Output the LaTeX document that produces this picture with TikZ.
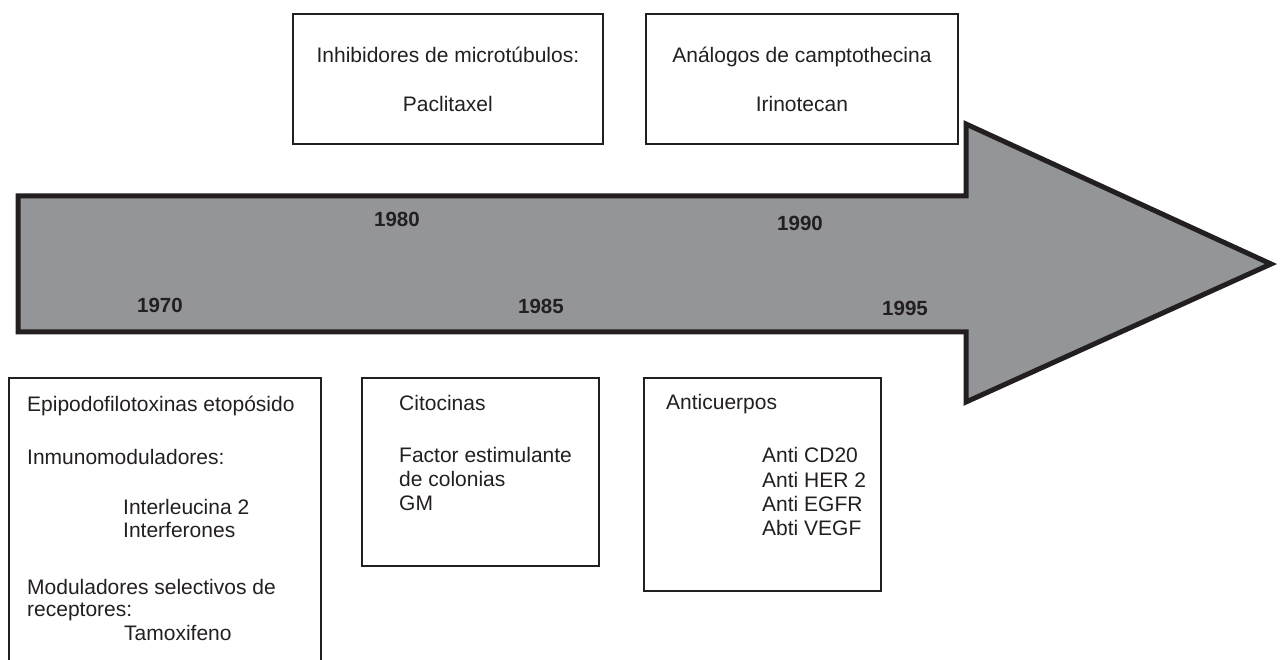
\documentclass[tikz,border=0pt]{standalone}
\usepackage{fontspec}
\setmainfont{Liberation Sans}
\usetikzlibrary{positioning}
\definecolor{ink}{RGB}{35,31,32}
\definecolor{bandgray}{RGB}{147,149,152}

\begin{document}
\begin{tikzpicture}[x=1pt,y=-1pt,
  box/.style={rectangle,draw=ink,line width=1.8pt,inner sep=0pt,anchor=north west,
              font=\fontsize{21}{23.5}\selectfont,text=ink},
  txt/.style={font=\fontsize{21}{23.5}\selectfont,text=ink,align=left,
              inner sep=0pt,anchor=north west},
  year/.style={font=\fontsize{20.5}{24}\selectfont\bfseries,text=ink},
  band/.style={draw=ink,fill=bandgray,line width=5pt,line join=miter}
]
\useasboundingbox (0,0) rectangle (1280,660);

% timeline arrow
\draw[band] (18,196) -- (966,196) -- (966,124) -- (1271,264)
  -- (966,402) -- (966,332) -- (18,332) -- cycle;

\node[year] (y70) at (160,305) {1970};
\node[year] (y80) at (397,219) {1980};
\node[year] (y85) at (541,306) {1985};
\node[year] (y90) at (800,223) {1990};
\node[year] (y95) at (905,308) {1995};

% top boxes
\node[box,minimum width=310,minimum height=130,align=center] (microtub) at (292,13)
  {Inhibidores de microt\'ubulos:\\[25.5pt]Paclitaxel};
\node[box,minimum width=312,minimum height=130,align=center] (campto) at (645,13)
  {An\'alogos de camptothecina\\[25.5pt]Irinotecan};

% bottom boxes
\node[box,minimum width=312,minimum height=300] (epipodo) at (8,377) {};
\node[box,minimum width=237,minimum height=188] (citoc) at (361,377) {};
\node[box,minimum width=237,minimum height=213] (anticu) at (643,377) {};

\node[txt] (epipodotxt) at (27,396)
  {Epipodofilotoxinas etop\'osido\\[29pt]
   Inmunomoduladores:\\[26.5pt]
   \hspace*{96pt}Interleucina 2\\
   \hspace*{96pt}Interferones\\[33.5pt]
   Moduladores selectivos de\\[-1.5pt]
   receptores:\\
   \hspace*{97pt}Tamoxifeno};
\node[txt] (citoctxt) at (399,395.5)
  {Citocinas\\[28.5pt]
   Factor estimulante\\
   de colonias\\[1pt]
   GM};
\node[txt] (anticutxt) at (666,394.5)
  {Anticuerpos\\[29.5pt]
   \hspace*{96pt}Anti CD20\\[1pt]
   \hspace*{96pt}Anti HER 2\\[1pt]
   \hspace*{96pt}Anti EGFR\\
   \hspace*{96pt}Abti VEGF};
\end{tikzpicture}
\end{document}
